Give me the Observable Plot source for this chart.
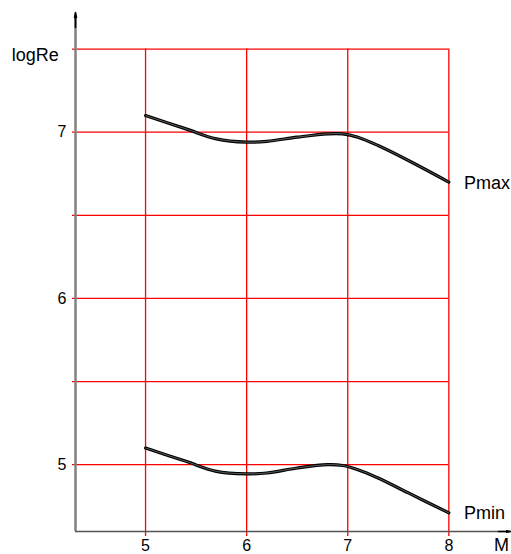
<!DOCTYPE html>
<html>
<head>
<meta charset="utf-8">
<script src="https://cdn.jsdelivr.net/npm/d3@7"></script>
<script src="https://cdn.jsdelivr.net/npm/@observablehq/plot@0.6"></script>
<style>
  html, body { margin: 0; padding: 0; background: #fff; }
  svg { display: block; }
</style>
</head>
<body>
<div id="chart"></div>
<script>
const M = [5.0, 5.4, 5.7, 6.0, 6.2, 6.5, 6.8, 6.95, 7.1, 7.3, 7.6, 8.0];
const pmax = [7.10, 7.02, 6.96, 6.94, 6.945, 6.97, 6.99, 6.99, 6.97, 6.92, 6.83, 6.70];
const pmin = [5.10, 5.02, 4.96, 4.945, 4.95, 4.98, 5.00, 4.995, 4.97, 4.92, 4.83, 4.71];
const xTicks = [5, 6, 7, 8];
const yTicks = [5, 6, 7];
const yGrid = [5, 5.5, 6, 6.5, 7, 7.5];

const xMin = 4.307, xMax = 8.61, yMin = 4.598, yMax = 7.72;

const maxData = M.map((m, i) => ({m, v: pmax[i]}));
const minData = M.map((m, i) => ({m, v: pmin[i]}));

const font = "Liberation Sans, Arial, sans-serif";

const chart = Plot.plot({
  width: 511,
  height: 554,
  marginLeft: 75,
  marginRight: 1,
  marginTop: 12,
  marginBottom: 23,
  style: {fontFamily: font, background: "#fff"},
  x: {domain: [xMin, xMax], axis: null},
  y: {domain: [yMin, yMax], axis: null},
  marks: [
    // horizontal grid
    Plot.ruleY(yGrid, {y: d => d, x1: xMin - 0.03, x2: 8, stroke: "red", strokeWidth: 1.3}),
    // vertical grid
    Plot.ruleX(xTicks, {x: d => d, y1: yMin - 0.03, y2: 7.5, stroke: "red", strokeWidth: 1.3}),
    // axes
    Plot.ruleX([xMin], {y1: yMin, y2: yMax - 0.03, stroke: "#808080", strokeWidth: 2.5}),
    Plot.ruleY([yMin], {x1: xMin, x2: xMax - 0.05, stroke: "#555", strokeWidth: 1.4}),
    Plot.arrow([0], {x1: xMin, x2: xMin, y1: yMax - 0.09, y2: yMax, stroke: "black", strokeWidth: 1.6, headAngle: 22, headLength: 12}),
    Plot.arrow([0], {x1: xMax - 0.12, x2: xMax, y1: yMin, y2: yMin, stroke: "black", strokeWidth: 1.6, headAngle: 22, headLength: 12}),
    // curves (double line look)
    Plot.line(maxData, {x: "m", y: "v", curve: "catmull-rom", stroke: "black", strokeWidth: 3.2}),
    Plot.line(maxData, {x: "m", y: "v", curve: "catmull-rom", stroke: "#fff", strokeWidth: 0.6, strokeOpacity: 0.6}),
    Plot.line(minData, {x: "m", y: "v", curve: "catmull-rom", stroke: "black", strokeWidth: 3.2}),
    Plot.line(minData, {x: "m", y: "v", curve: "catmull-rom", stroke: "#fff", strokeWidth: 0.6, strokeOpacity: 0.6}),
    // tick labels
    Plot.text(yTicks, {x: xMin, y: d => d, text: d => String(d), dx: -9, textAnchor: "end", fontSize: 16, fill: "black"}),
    Plot.text(xTicks, {x: d => d, y: yMin, text: d => String(d), dy: 14, fontSize: 16, fill: "black"}),
    // titles
    Plot.text(["logRe"], {x: 3.91, y: 7.46, text: d => d, fontSize: 18, fill: "black"}),
    Plot.text(["M"], {x: 8.52, y: yMin, text: d => d, dy: 14, fontSize: 18, fill: "black"}),
    Plot.text(["Pmax"], {x: 8.15, y: 6.69, text: d => d, textAnchor: "start", fontSize: 18, fill: "black"}),
    Plot.text(["Pmin"], {x: 8.15, y: 4.71, text: d => d, textAnchor: "start", fontSize: 18, fill: "black"})
  ]
});
document.getElementById("chart").appendChild(chart);
</script>
</body>
</html>
